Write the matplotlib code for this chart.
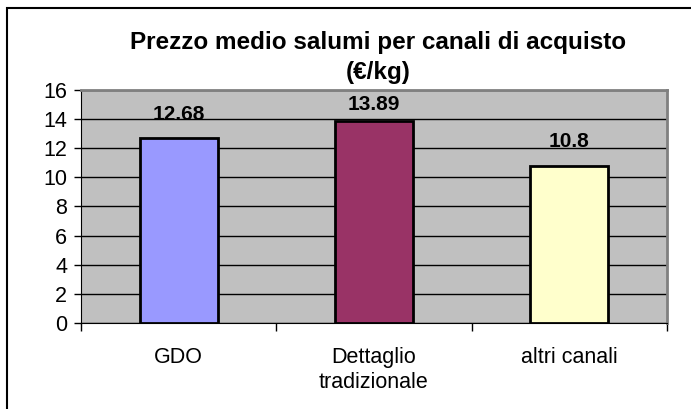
import numpy as np
import matplotlib.pyplot as plt
from matplotlib.patches import Rectangle

categories = ['GDO', 'Dettaglio\ntradizionale', 'altri canali']
prices = [12.68, 13.89, 10.8]
price_labels = ['12.68', '13.89', '10.8']
bar_colors = ['#9999FF', '#993366', '#FFFFCC']

plt.rcParams['font.family'] = ['Liberation Sans', 'DejaVu Sans']

fig = plt.figure(figsize=(6.91, 4.09), dpi=100)
ax = fig.add_axes([0.1172, 0.2103, 0.848, 0.5697])
ax.set_facecolor('#C0C0C0')

x = np.arange(len(categories))
ax.bar(x, prices, width=0.4, color=bar_colors, edgecolor='black', linewidth=2, zorder=3)

ax.set_xlim(-0.5, 2.5)
ax.set_ylim(0, 16)
ax.set_yticks(range(0, 17, 2))
ax.yaxis.grid(True, color='black', linewidth=1, zorder=1)
ax.tick_params(axis='y', labelsize=15.5, length=5, width=1, pad=5)

# ticks at the category boundaries, labels at the centres
ax.set_xticks([-0.5, 0.5, 1.5, 2.5])
ax.set_xticklabels([])
ax.set_xticks(x, minor=True)
ax.set_xticklabels(categories, minor=True, fontsize=15.5, linespacing=1.3)
ax.tick_params(axis='x', which='major', length=6, width=1, color='black')
ax.tick_params(axis='x', which='minor', length=0, pad=17)

for s in ['top', 'right']:
    ax.spines[s].set_color('#808080')
    ax.spines[s].set_linewidth(2)
ax.spines['left'].set_color('black')
ax.spines['bottom'].set_color('black')

for xi, v, lab in zip(x, prices, price_labels):
    ax.text(xi, min(v + 1.0, 14.35), lab, ha='center', va='bottom',
            fontsize=15, fontweight='bold', zorder=4)

fig.text(0.547, 1 - 42 / 409, 'Prezzo medio salumi per canali di acquisto',
         ha='center', va='center', fontsize=17.5, fontweight='bold')
fig.text(0.547, 1 - 73 / 409, '(€/kg)',
         ha='center', va='center', fontsize=17.5, fontweight='bold')

fig.patches.append(Rectangle((7 / 691, -0.1), 1.2, 1 - 8 / 409 + 0.1,
                             transform=fig.transFigure, fill=False,
                             edgecolor='black', linewidth=1.5))

fig.savefig('out.png', dpi=100)
